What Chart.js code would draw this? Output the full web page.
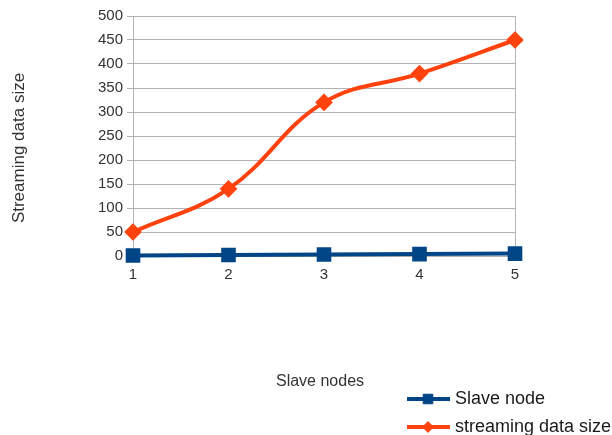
<!DOCTYPE html>
<html>
<head>
<meta charset="utf-8">
<script src="https://cdn.jsdelivr.net/npm/chart.js@4/dist/chart.umd.min.js"></script>
<style>
  html, body { margin: 0; padding: 0; background: #ffffff; }
  #wrap { width: 612px; height: 435px; }
</style>
</head>
<body>
<div id="wrap"><canvas id="c" width="612" height="435"></canvas></div>
<script>
// Number of slave nodes on the x axis
const nodes = [1, 2, 3, 4, 5];
// Series values
const slaveNode = [1, 2, 3, 4, 5];
const streamingSize = [50, 140, 320, 380, 450];
// Y axis range and step
const yMin = 0, yMax = 500, yStep = 50;

const xTitle = 'Slave nodes';
const yTitle = 'Streaming data size';

const BLUE = '#004586';
const ORANGE = '#ff420e';
const GRID = '#b3b3b3';
const TEXT = '#333333';
const FONT = '"Liberation Sans", Arial, sans-serif';

// Axis titles and the legend box drawn on the canvas
const decorations = {
  id: 'decorations',
  afterDraw(chart) {
    const ctx = chart.ctx;
    ctx.save();
    ctx.fillStyle = TEXT;
    // y axis title
    ctx.font = '17px ' + FONT;
    ctx.textAlign = 'center';
    ctx.textBaseline = 'middle';
    ctx.save();
    ctx.translate(19, 148);
    ctx.rotate(-Math.PI / 2);
    ctx.fillText(yTitle, 0, 0);
    ctx.restore();
    // x axis title
    ctx.font = '16px ' + FONT;
    ctx.fillText(xTitle, 320, 382);

    // legend
    const rows = [399, 427];
    ctx.textAlign = 'left';
    ctx.font = '18px ' + FONT;
    chart.data.datasets.forEach((ds, i) => {
      const y = rows[i];
      ctx.strokeStyle = ds.borderColor;
      ctx.lineWidth = ds.borderWidth;
      ctx.beginPath();
      ctx.moveTo(407, y);
      ctx.lineTo(450, y);
      ctx.stroke();
      ctx.fillStyle = ds.pointBackgroundColor;
      ctx.strokeStyle = ds.pointBorderColor;
      ctx.lineWidth = 1;
      Chart.helpers.drawPoint(ctx, {
        pointStyle: ds.pointStyle,
        radius: ds.pointRadius * 0.9,
        borderWidth: 1
      }, 428, y);
      ctx.fillStyle = '#1a1a1a';
      ctx.fillText(ds.label, 455, y);
    });
    ctx.restore();
  }
};

new Chart(document.getElementById('c'), {
  type: 'line',
  data: {
    labels: nodes,
    datasets: [
      {
        label: 'Slave node',
        data: nodes.map((x, i) => ({ x: x, y: slaveNode[i] })),
        borderColor: BLUE,
        backgroundColor: BLUE,
        pointBackgroundColor: BLUE,
        pointBorderColor: BLUE,
        borderWidth: 4,
        pointStyle: 'rect',
        pointRadius: 7.5,
        pointHoverRadius: 7.5,
        tension: 0,
        clip: false
      },
      {
        label: 'streaming data size',
        data: nodes.map((x, i) => ({ x: x, y: streamingSize[i] })),
        borderColor: ORANGE,
        backgroundColor: ORANGE,
        pointBackgroundColor: ORANGE,
        pointBorderColor: ORANGE,
        borderWidth: 4,
        pointStyle: 'rectRot',
        pointRadius: 6,
        pointHoverRadius: 6,
        tension: 0.4,
        clip: false
      }
    ]
  },
  options: {
    responsive: false,
    animation: false,
    events: [],
    layout: { padding: { left: 0, right: 97, top: 16, bottom: 0 } },
    plugins: {
      legend: { display: false },
      tooltip: { enabled: false },
      title: { display: false }
    },
    scales: {
      x: {
        type: 'linear',
        min: nodes[0],
        max: nodes[nodes.length - 1],
        afterFit: (s) => { s.height = 179; },
        ticks: {
          stepSize: 1,
          color: TEXT,
          font: { family: FONT, size: 15 },
          padding: 10
        },
        grid: {
          drawTicks: false,
          color: (c) => (c.index === 0 || c.index === nodes.length - 1) ? GRID : 'rgba(0,0,0,0)',
          lineWidth: 1
        },
        border: { display: true, color: GRID }
      },
      y: {
        min: yMin,
        max: yMax,
        afterFit: (s) => { s.width = 133; },
        ticks: {
          stepSize: yStep,
          color: TEXT,
          font: { family: FONT, size: 15 },
          padding: 4
        },
        grid: {
          color: GRID,
          lineWidth: 1,
          tickLength: 6
        },
        border: { display: true, color: GRID }
      }
    }
  },
  plugins: [decorations]
});
</script>
</body>
</html>
